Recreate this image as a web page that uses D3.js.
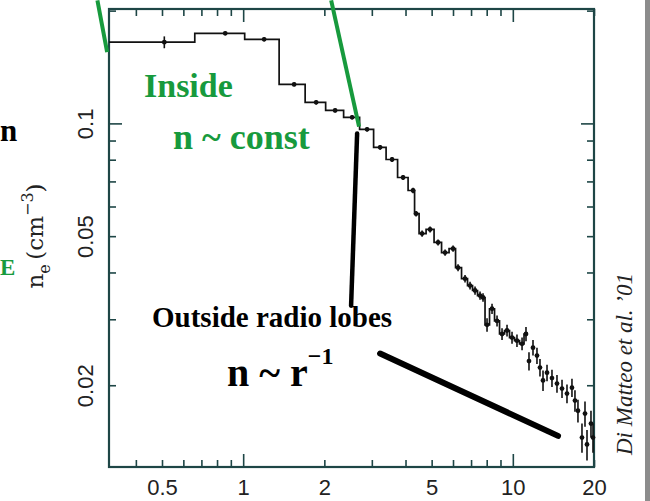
<!DOCTYPE html>
<html>
<head>
<meta charset="utf-8">
<script src="https://cdn.jsdelivr.net/npm/d3@7"></script>
<style>
  html, body { margin: 0; padding: 0; background: #fff; }
  svg { display: block; }
</style>
</head>
<body>
<svg id="profile"></svg>
<script>
// electron density profile
const radius = [0.510, 0.858, 1.196, 1.545, 1.865, 2.193, 2.535, 2.881, 3.220, 3.566,
  3.918, 4.267, 4.377, 4.608, 4.933, 5.281, 5.607, 6.003, 6.264, 6.649,
  6.939, 7.242, 7.557, 7.753, 8.023, 8.373, 8.739, 9.120, 9.517, 9.932,
  10.36, 10.82, 11.19, 11.48, 11.88, 12.29, 12.61, 12.94, 13.39, 13.97,
  14.58, 15.22, 15.88, 16.57, 17.00, 17.44, 18.05, 18.52, 18.84, 19.49, 19.83];
const density = [0.1647, 0.1740, 0.1677, 0.1271, 0.1138, 0.1083, 0.1038, 0.0964, 0.0863, 0.0801,
  0.0717, 0.0662, 0.0574, 0.0508, 0.0521, 0.0481, 0.0452, 0.0463, 0.0412, 0.0385,
  0.0369, 0.0358, 0.0347, 0.0343, 0.0290, 0.0320, 0.0297, 0.0274, 0.0280, 0.0268,
  0.0263, 0.0258, 0.0274, 0.0232, 0.0252, 0.0240, 0.0223, 0.0206, 0.0216, 0.0209,
  0.0202, 0.0196, 0.0190, 0.0197, 0.0182, 0.0171, 0.0145, 0.0168, 0.0139, 0.0158, 0.0145];
const densityErr = [0.006, 0.002, 0.002, 0.0015, 0.0015, 0.0013, 0.0013, 0.0013, 0.0012, 0.0012,
  0.0011, 0.0011, 0.0010, 0.0010, 0.0010, 0.0009, 0.0009, 0.0009, 0.0009, 0.0009,
  0.0009, 0.0009, 0.0009, 0.0009, 0.0012, 0.0010, 0.0010, 0.0010, 0.0010, 0.0010,
  0.0010, 0.0010, 0.0012, 0.0013, 0.0012, 0.0012, 0.0012, 0.0013, 0.0011, 0.0011,
  0.0011, 0.0011, 0.0011, 0.0011, 0.0012, 0.0012, 0.0013, 0.0013, 0.0013, 0.0013, 0.0013];
const stepCount = 33; // histogram line drawn through the first bins only

const xTicksMinor = [0.4, 0.5, 0.6, 0.7, 0.8, 0.9, 2, 3, 4, 5, 6, 7, 8, 9, 20];
const xTicksMajor = [1, 10];
const xTickLabels = [0.5, 1, 2, 5, 10, 20];
const yTicksMinor = [0.02, 0.03, 0.04, 0.05, 0.06, 0.07, 0.08, 0.09, 0.2];
const yTicksMajor = [0.1];
const yTickLabels = [0.02, 0.05, 0.1];

// guide lines drawn over the plot, in data units [r, n]
const insideGuides = [
  [[0.288, 0.213], [0.313, 0.155]],
  [[2.12, 0.213], [2.69, 0.098]]
];
const outsideGuides = [
  [[2.646, 0.094], [2.513, 0.0326]],
  [[3.22, 0.0243], [14.71, 0.01465]]
];

const W = 650, H = 501;
const margin = { top: 9, right: 56, bottom: 34, left: 109 };
const width = W - margin.left - margin.right;
const height = H - margin.top - margin.bottom;
const frameColor = '#1e4646';
const green = '#179a3d';

const root = d3.select('svg#profile').attr('width', W).attr('height', H);
const svg = root.append('g').attr('transform', `translate(${margin.left},${margin.top})`);

const x = d3.scaleLog().domain([0.318, 20]).range([0, width]);
const y = d3.scaleLog().domain([0.0121, 0.202]).range([height, 0]);

// ticks (inward, all four sides)
const tickAxis = (axis, vals, len) => axis.tickValues(vals).tickSize(-len).tickFormat('');
const addTicks = (gen, tr) => {
  const g = svg.append('g').attr('transform', tr).call(gen);
  g.select('.domain').remove();
  g.selectAll('line').attr('stroke', frameColor).attr('stroke-width', 1.6);
  return g;
};
addTicks(tickAxis(d3.axisBottom(x), xTicksMinor, 7), `translate(0,${height})`);
addTicks(tickAxis(d3.axisBottom(x), xTicksMajor, 13), `translate(0,${height})`);
addTicks(tickAxis(d3.axisTop(x), xTicksMinor, 7), 'translate(0,0)');
addTicks(tickAxis(d3.axisTop(x), xTicksMajor, 13), 'translate(0,0)');
addTicks(tickAxis(d3.axisLeft(y), yTicksMinor, 7), 'translate(0,0)');
addTicks(tickAxis(d3.axisLeft(y), yTicksMajor, 13), 'translate(0,0)');
addTicks(tickAxis(d3.axisRight(y), yTicksMinor, 7), `translate(${width},0)`);
addTicks(tickAxis(d3.axisRight(y), yTicksMajor, 13), `translate(${width},0)`);

// tick labels
const xl = svg.append('g')
  .attr('transform', `translate(0,${height})`)
  .call(d3.axisBottom(x).tickValues(xTickLabels).tickSize(0).tickPadding(12).tickFormat(d3.format('')));
xl.select('.domain').remove();
xl.selectAll('text')
  .style('font-family', '"Liberation Sans", Arial, sans-serif')
  .style('font-size', '22px')
  .attr('fill', '#222');

const yl = svg.append('g')
  .call(d3.axisLeft(y).tickValues(yTickLabels).tickSize(0).tickFormat(d3.format('')));
yl.select('.domain').remove();
yl.selectAll('text')
  .attr('x', 0).attr('dy', 0)
  .attr('text-anchor', 'middle')
  .attr('transform', 'translate(-16,0) rotate(-90)')
  .style('font-family', '"Liberation Sans", Arial, sans-serif')
  .style('font-size', '22px')
  .attr('fill', '#222');

// frame
svg.append('rect')
  .attr('width', width).attr('height', height)
  .attr('fill', 'none').attr('stroke', frameColor).attr('stroke-width', 2.2);

// data
const pts = radius.map((r, i) => ({ r, n: density[i], e: densityErr[i] }));

const step = d3.line()
  .x(d => x(d.r))
  .y(d => y(d.n))
  .curve(d3.curveStep);

svg.append('path')
  .datum([{ r: x.domain()[0], n: density[0] }].concat(pts.slice(0, stepCount)))
  .attr('d', step)
  .attr('fill', 'none')
  .attr('stroke', '#111')
  .attr('stroke-width', 1.7);

svg.selectAll('line.err')
  .data(pts)
  .enter()
  .append('line')
  .attr('class', 'err')
  .attr('x1', d => x(d.r)).attr('x2', d => x(d.r))
  .attr('y1', d => y(d.n + d.e)).attr('y2', d => y(d.n - d.e))
  .attr('stroke', '#111')
  .attr('stroke-width', 1.6);

svg.selectAll('circle.pt')
  .data(pts)
  .enter()
  .append('circle')
  .attr('class', 'pt')
  .attr('cx', d => x(d.r))
  .attr('cy', d => y(d.n))
  .attr('r', 2.4)
  .attr('fill', '#111');

// guide lines
const guide = d3.line().x(d => x(d[0])).y(d => y(d[1]));
svg.selectAll('path.inside')
  .data(insideGuides)
  .enter()
  .append('path')
  .attr('class', 'inside')
  .attr('d', guide)
  .attr('stroke', green)
  .attr('stroke-width', 4);
svg.selectAll('path.outside')
  .data(outsideGuides)
  .enter()
  .append('path')
  .attr('class', 'outside')
  .attr('d', guide)
  .attr('stroke', '#000')
  .attr('stroke-linecap', 'round')
  .attr('stroke-width', (d, i) => i ? 6 : 4.5);

// annotation text (page coordinates)
const serif = '"Liberation Serif", "Times New Roman", serif';
root.append('text')
  .attr('x', 144).attr('y', 97)
  .style('font-family', serif).style('font-weight', 'bold').style('font-size', '34px')
  .attr('fill', green)
  .text('Inside');
root.append('text')
  .attr('x', 173).attr('y', 149)
  .style('font-family', serif).style('font-weight', 'bold').style('font-size', '36px')
  .attr('fill', green)
  .text('n ~ const');
root.append('text')
  .attr('x', 152).attr('y', 327)
  .style('font-family', serif).style('font-weight', 'bold').style('font-size', '29px')
  .attr('fill', '#000')
  .text('Outside radio lobes');
const nr = root.append('text')
  .attr('x', 227).attr('y', 386)
  .style('font-family', serif).style('font-weight', 'bold').style('font-size', '40px')
  .attr('fill', '#000');
nr.append('tspan').text('n ~ r');
nr.append('tspan').attr('dy', -22).style('font-size', '24px').text('\u22121');

// slide text fragments on the left edge
root.append('text')
  .attr('x', 0).attr('y', 141)
  .style('font-family', serif).style('font-weight', 'bold').style('font-size', '31px')
  .attr('fill', '#000')
  .text('n');
root.append('text')
  .attr('x', 0).attr('y', 275)
  .style('font-family', serif).style('font-weight', 'bold').style('font-size', '23px')
  .attr('fill', green)
  .text('E');

// y axis title
const yt = root.append('text')
  .attr('transform', 'translate(43,236) rotate(-90)')
  .attr('text-anchor', 'middle')
  .style('font-family', '"DejaVu Serif", serif')
  .style('font-size', '23px')
  .attr('fill', '#222');
yt.append('tspan').text('n');
yt.append('tspan').attr('dy', 7).style('font-size', '16px').text('e');
yt.append('tspan').attr('dy', -7).text('\u2009(cm');
yt.append('tspan').attr('dy', -10).style('font-size', '16px').text('\u22123');
yt.append('tspan').attr('dy', 10).text(')');

// credit
root.append('text')
  .attr('transform', 'translate(632,364) rotate(-90)')
  .attr('text-anchor', 'middle')
  .style('font-family', serif).style('font-style', 'italic').style('font-size', '23px')
  .attr('fill', '#222')
  .text('Di Matteo et al. \u201901');

// grey strip on the right edge
root.append('rect')
  .attr('x', 645).attr('y', 0).attr('width', 5).attr('height', H)
  .attr('fill', '#8c8c8c');
</script>
</body>
</html>
